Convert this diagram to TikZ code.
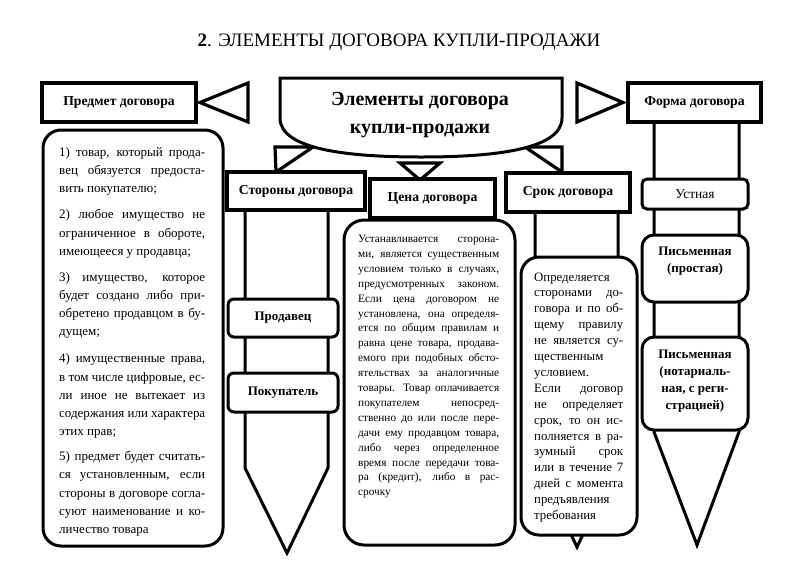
\documentclass[tikz,border=0pt]{standalone}
\usepackage{fontspec}
\setmainfont{Liberation Serif}
\usepackage{graphicx}
\newlength\tw
\newcommand\J[1]{\setbox0=\hbox{#1}\ifdim\wd0>\tw\hbox{\resizebox{\tw}{\height}{#1}}\else\hbox to\tw{#1}\fi}
\newcommand\Lf[1]{\setbox0=\hbox{#1}\ifdim\wd0>\tw\hbox{\resizebox{\tw}{\height}{#1}}\else\hbox to\tw{#1\hfil}\fi}
\tikzset{
  hdr/.style={draw, line width=3.2pt, fill=white, inner sep=0pt,
    font=\fontsize{13.7}{15}\selectfont\bfseries},
  bigbox/.style={draw, line width=3pt, fill=white, rounded corners=18pt, inner sep=0pt},
  subbox/.style={draw, line width=3pt, fill=white, rounded corners=6pt, inner sep=0pt,
    font=\fontsize{13}{15}\selectfont\bfseries},
  pbox/.style={draw, line width=3pt, fill=white, rounded corners=12pt, inner sep=0pt},
  pen/.style={draw, line width=3pt, line join=miter},
  tri/.style={draw, line width=3.2pt, fill=white, line join=miter},
  lbl/.style={inner sep=0pt, align=center, font=\fontsize{13}{17}\selectfont\bfseries},
  body/.style={anchor=base west, inner sep=0pt}
}
\begin{document}
\begin{tikzpicture}[x=1pt,y=-1pt]
\useasboundingbox (0,0) rectangle (800,560);
\fill[white] (0,0) rectangle (800,560);

% title
\node[inner sep=0pt, font=\fontsize{19}{22}\selectfont] (title) at (399,42) {\textbf{2}. ЭЛЕМЕНТЫ ДОГОВОРА КУПЛИ-ПРОДАЖИ};

% pencil columns
\draw[pen] (245,210) -- (245,468) -- (287,553) -- (328,468) -- (328,210);
\draw[pen] (535,212) -- (535,460) -- (577,547) -- (618,460) -- (618,212);
\draw[pen] (654,122) -- (654,432) -- (697,545) -- (739,432) -- (739,122);

% triangles
\draw[tri] (200,102.5) -- (248,83) -- (248,122) -- cycle;
\draw[tri] (623,102.5) -- (577,83) -- (577,122) -- cycle;
\draw[tri] (275,147) -- (313,147) -- (276,172) -- cycle;
\draw[tri] (562,147) -- (525,147) -- (562,172) -- cycle;
\draw[tri] (400,163) -- (440,163) -- (420,180) -- cycle;

% central shape
\draw[line width=3pt, fill=white, line join=miter] (280,78) -- (562,78) -- (562,118)
  .. controls (562,150) and (492,157) .. (421,157)
  .. controls (350,157) and (280,150) .. (280,118) -- cycle;
\node[inner sep=0pt, align=center, font=\fontsize{20}{28}\selectfont\bfseries] (main) at (420,115) {Элементы договора\\купли-продажи};

% header boxes
\node[hdr, minimum width=154pt, minimum height=39pt] (predmet) at (119,102.5) {Предмет договора};
\node[hdr, minimum width=133pt, minimum height=39pt] (forma) at (694.5,102.5) {Форма договора};
\node[hdr, minimum width=138pt, minimum height=38pt] (storony) at (296,191) {Стороны договора};
\node[hdr, minimum width=125pt, minimum height=39pt] (cena) at (432.5,198.5) {Цена договора};
\node[hdr, minimum width=124pt, minimum height=39pt] (srok) at (568,192.5) {Срок договора};

% sub boxes
\node[subbox, minimum width=110pt, minimum height=38pt] (prodavec) at (283,318) {Продавец};
\node[subbox, minimum width=110pt, minimum height=39pt] (pokupatel) at (283,392.5) {Покупатель};
\node[subbox, rounded corners=5pt, minimum width=106pt, minimum height=30pt, font=\fontsize{13.5}{15}\selectfont] (ustnaya) at (695,194) {Устная};
\node[pbox, minimum width=106pt, minimum height=67pt] (pism1) at (695,268.5) {};
\node[lbl] (pism1t) at (695,261) {Письменная\\(простая)};
\node[pbox, minimum width=106pt, minimum height=93pt] (pism2) at (695,383.5) {};
\node[lbl] (pism2t) at (695,381.5) {Письменная\\(нотариаль-\\ная, с реги-\\страцией)};

% big text boxes
\node[bigbox, minimum width=180pt, minimum height=416pt] (predmetbox) at (133,338) {};
\node[bigbox, rounded corners=20pt, minimum width=171pt, minimum height=325pt] (cenabox) at (429.5,382.5) {};
\node[bigbox, minimum width=116pt, minimum height=278pt] (srokbox) at (579,396) {};

\node[body] (predmettxt) at (59,156.5) {\begin{minipage}[t]{146pt}\fontsize{13}{18.2}\selectfont\setlength\tw{146pt}%
\J{1) товар, который прода-}
\J{вец обязуется предоста-}
\Lf{вить покупателю;}
\vspace{7.8pt}
\J{2) любое имущество не}
\J{ограниченное в обороте,}
\Lf{имеющееся у продавца;}
\vspace{7.8pt}
\J{3) имущество, которое}
\J{будет создано либо при-}
\J{обретено продавцом в бу-}
\Lf{дущем;}
\vspace{8.8pt}
\J{4) имущественные права,}
\J{в том числе цифровые, ес-}
\J{ли иное не вытекает из}
\J{содержания или характера}
\Lf{этих прав;}
\vspace{6.8pt}
\J{5) предмет будет считать-}
\J{ся установленным, если}
\J{стороны в договоре согла-}
\J{суют наименование и ко-}
\Lf{личество товара}
\end{minipage}};

\node[body] (cenatxt) at (358,242.5) {\begin{minipage}[t]{141pt}\fontsize{11.3}{14.9}\selectfont\setlength\tw{141pt}%
\J{Устанавливается сторона-}
\J{ми, является существенным}
\J{условием только в случаях,}
\J{предусмотренных законом.}
\J{Если цена договором не}
\J{установлена, она определя-}
\J{ется по общим правилам и}
\J{равна цене товара, продава-}
\J{емого при подобных обсто-}
\J{ятельствах за аналогичные}
\J{товары. Товар оплачивается}
\J{покупателем непосред-}
\J{ственно до или после пере-}
\J{дачи ему продавцом товара,}
\J{либо через определенное}
\J{время после передачи това-}
\J{ра (кредит), либо в рас-}
\Lf{срочку}
\end{minipage}};

\node[body] (sroktxt) at (534,281) {\begin{minipage}[t]{89pt}\fontsize{12.8}{15.9}\selectfont\setlength\tw{89pt}%
\Lf{Определяется}
\J{сторонами до-}
\J{говора и по об-}
\J{щему правилу}
\J{не является су-}
\Lf{щественным}
\Lf{условием.}
\J{Если договор}
\J{не определяет}
\J{срок, то он ис-}
\J{полняется в ра-}
\J{зумный срок}
\J{или в течение 7}
\J{дней с момента}
\Lf{предъявления}
\Lf{требования}
\end{minipage}};
\end{tikzpicture}
\end{document}
